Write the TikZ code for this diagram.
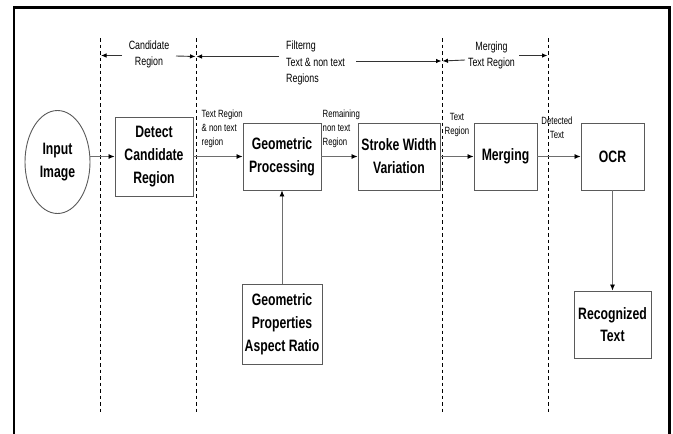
\documentclass[tikz,border=0pt]{standalone}
\usepackage{fontspec}
\newfontfamily\nf[FakeStretch=0.74]{Liberation Sans}
\usetikzlibrary{arrows.meta,shapes.geometric}
\definecolor{boxgray}{HTML}{5A5A5A}
\definecolor{linegray}{HTML}{6E6E6E}
\tikzset{
  blk/.style={draw=boxgray, line width=0.9pt, fill=white, align=center, inner sep=0pt,
    font=\nf\bfseries\fontsize{16.5}{22.8}\selectfont},
  conn/.style={draw=linegray, line width=0.8pt, -{Latex[length=6pt,width=5pt,color=black]}},
  topann/.style={font=\nf\fontsize{12}{16.5}\selectfont, inner sep=0pt},
  edgelab/.style={font=\nf\fontsize{10.5}{14}\selectfont, inner sep=0pt},
  divider/.style={draw=black, line width=0.5pt, dash pattern=on 3.5pt off 3pt},
  annarrow/.style={draw=black!80, line width=0.9pt, -{Latex[length=5.5pt,width=4.5pt,color=black]}}
}
\begin{document}
\begin{tikzpicture}[x=1pt,y=-1pt]
\useasboundingbox (0,0) rectangle (673,434);
% frame
\draw[line width=2.4pt] (14.2,434) -- (14.2,7.3) -- (669.3,7.3) -- (669.3,434);
% dividers
\foreach \n/\x in {1/100,2/196,3/442,4/548}{
  \coordinate (d\n t) at (\x,38);
  \coordinate (d\n b) at (\x,415);
  \draw[divider] (d\n t) -- (d\n b);
}
% top annotations
\node[topann, align=center] (cand) at (149,54.5) {Candidate\\Region};
\node[topann, align=left, anchor=west] (filt) at (286,63) {Filterng\\Text \& non text\\Regions};
\node[topann, align=center] (merg) at (491.5,55.5) {Merging\\Text Region};
\coordinate (c1a) at (122,55.5); \coordinate (c1b) at (101,55.5);
\coordinate (c2a) at (176,56); \coordinate (c2b) at (195.5,56.5);
\coordinate (f1a) at (279,56.5); \coordinate (f1b) at (196.5,56.5);
\coordinate (f2a) at (356,61); \coordinate (f2b) at (441.5,61);
\coordinate (m1a) at (465,60); \coordinate (m1b) at (442.5,61);
\coordinate (m2a) at (519,55.5); \coordinate (m2b) at (547.5,55.5);
\foreach \a/\b in {c1a/c1b,c2a/c2b,f1a/f1b,f2a/f2b,m1a/m1b,m2a/m2b}{
  \draw[annarrow] (\a) -- (\b);
}
% nodes
\node[blk, ellipse, minimum width=65pt, minimum height=103pt] (inp) at (57.5,162) {Input\\Image};
\node[blk, minimum width=78pt, minimum height=79pt] (det) at (154,156.5) {Detect\\Candidate\\Region};
\node[blk, minimum width=78pt, minimum height=67pt] (geo) at (282,156.5) {Geometric\\Processing};
\node[blk, minimum width=82pt, minimum height=67pt] (swv) at (399,156.5) {Stroke Width\\Variation};
\node[blk, minimum width=63pt, minimum height=67pt] (mer) at (505.5,156.5) {Merging};
\node[blk, minimum width=63pt, minimum height=67pt] (ocr) at (612.5,156.5) {OCR};
\node[blk, minimum width=80pt, minimum height=80pt] (gpr) at (282,324) {Geometric\\Properties\\Aspect Ratio};
\node[blk, minimum width=77pt, minimum height=67pt] (rec) at (612.5,324.5) {Recognized\\Text};
% connectors
\draw[conn] (inp.east |- det.west) -- (det.west);
\draw[conn] (det) -- (geo);
\draw[conn] (geo) -- (swv);
\draw[conn] (swv) -- (mer);
\draw[conn] (mer) -- (ocr);
\draw[conn] (gpr) -- (geo);
\draw[conn] (ocr) -- (rec);
% edge labels
\node[edgelab, align=left, anchor=west] (l1) at (201.5,129) {Text Region\\\& non text\\region};
\node[edgelab, align=left, anchor=west] (l2) at (322.5,129) {Remaining\\non text\\Region};
\node[edgelab, align=center] (l3) at (457,124.5) {Text\\Region};
\node[edgelab, align=center] (l4) at (557,128) {Detected\\Text};
\end{tikzpicture}
\end{document}
